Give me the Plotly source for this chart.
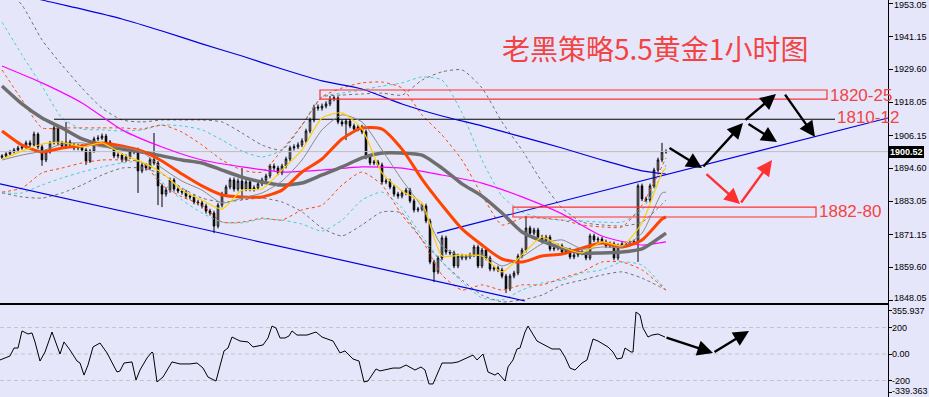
import plotly.graph_objects as go

# ---------------- XAUUSD H1 candles (bar index 0..166) ----------------
close = [1899.0, 1899.7, 1900.4, 1901.1, 1901.8, 1902.2, 1903.6, 1902.9, 1906.7, 1902.2,
         1897.6, 1900.4, 1903.6, 1908.9, 1903.6, 1902.5, 1903.9, 1902.9, 1901.8, 1902.5,
         1901.1, 1897.2, 1900.7, 1905.0, 1905.3, 1906.0, 1903.9, 1902.5, 1899.0, 1899.3,
         1897.6, 1898.6, 1900.4, 1901.1, 1893.7, 1895.8, 1894.7, 1897.6, 1896.5, 1888.4,
         1885.5, 1886.9, 1890.5, 1887.3, 1886.6, 1886.2, 1884.8, 1884.5, 1882.7, 1882.4,
         1881.3, 1879.5, 1878.8, 1874.2, 1881.6, 1885.5, 1888.0, 1890.5, 1887.3, 1890.1,
         1887.3, 1889.8, 1887.3, 1887.7, 1889.1, 1890.5, 1891.9, 1895.4, 1894.7, 1893.0,
         1895.4, 1897.9, 1901.8, 1902.2, 1902.9, 1904.3, 1907.8, 1911.7, 1916.3, 1915.9,
         1916.6, 1917.4, 1919.1, 1919.5, 1911.0, 1910.3, 1911.3, 1909.6, 1908.5, 1909.2,
         1907.5, 1898.6, 1896.5, 1896.8, 1895.8, 1889.8, 1890.1, 1888.0, 1885.5, 1884.8,
         1885.9, 1886.9, 1883.1, 1879.9, 1880.2, 1881.3, 1876.0, 1861.5, 1858.0, 1862.9,
         1870.0, 1865.0, 1864.7, 1860.1, 1863.6, 1862.9, 1863.3, 1864.0, 1866.8, 1860.1,
         1865.7, 1862.9, 1859.0, 1859.4, 1858.7, 1856.5, 1852.0, 1856.5, 1857.6, 1863.6,
         1865.7, 1873.5, 1871.7, 1872.8, 1870.3, 1868.9, 1870.3, 1866.1, 1866.4, 1867.2,
         1865.0, 1865.7, 1863.3, 1864.0, 1865.0, 1864.7, 1862.9, 1870.7, 1869.3, 1869.6,
         1868.6, 1867.2, 1867.9, 1862.9, 1867.2, 1867.9, 1867.9, 1868.2, 1868.6, 1888.4,
         1883.8, 1883.4, 1888.4, 1894.0, 1897.6, 1900.4, 1900.52]
high = [1899.6, 1900.3, 1901.0, 1901.8, 1902.6, 1903.0, 1904.4, 1904.5, 1907.6, 1907.3,
        1903.0, 1901.3, 1904.3, 1909.6, 1909.5, 1904.3, 1911.0, 1904.7, 1903.6, 1903.3,
        1903.2, 1901.8, 1901.4, 1905.8, 1906.3, 1906.9, 1906.8, 1904.6, 1903.2, 1900.2,
        1900.0, 1899.5, 1901.2, 1901.9, 1901.9, 1896.6, 1896.5, 1898.4, 1907.1, 1897.2,
        1889.2, 1887.8, 1891.3, 1891.2, 1888.1, 1887.4, 1887.0, 1885.6, 1885.3, 1883.5,
        1883.2, 1882.1, 1880.3, 1879.6, 1882.4, 1886.3, 1888.8, 1891.3, 1891.4, 1891.0,
        1894.7, 1890.7, 1890.6, 1888.6, 1889.9, 1891.3, 1892.7, 1896.2, 1896.3, 1895.5,
        1896.2, 1898.7, 1902.6, 1903.1, 1903.8, 1905.2, 1908.6, 1912.5, 1917.1, 1917.2,
        1917.5, 1918.3, 1920.2, 1920.3, 1920.1, 1911.8, 1912.1, 1912.0, 1910.4, 1910.0,
        1910.0, 1908.3, 1899.4, 1897.6, 1897.6, 1896.6, 1891.0, 1890.9, 1888.8, 1886.3,
        1886.7, 1887.7, 1887.7, 1883.9, 1881.0, 1882.1, 1882.1, 1876.8, 1862.3, 1863.7,
        1870.9, 1870.8, 1865.8, 1865.5, 1864.4, 1864.4, 1864.1, 1864.8, 1867.6, 1867.6,
        1866.5, 1866.5, 1863.7, 1860.2, 1860.2, 1859.5, 1857.3, 1857.3, 1858.4, 1864.4,
        1866.5, 1877.8, 1874.3, 1873.6, 1873.6, 1871.1, 1871.1, 1871.1, 1867.2, 1868.0,
        1868.0, 1866.5, 1866.5, 1864.8, 1865.8, 1865.8, 1865.5, 1871.5, 1871.5, 1870.4,
        1870.4, 1869.4, 1868.7, 1868.7, 1868.0, 1868.7, 1868.7, 1869.0, 1869.4, 1889.2,
        1889.2, 1884.6, 1889.2, 1894.8, 1898.4, 1903.6, 1901.3]
low = [1897.9, 1898.6, 1899.2, 1899.9, 1900.5, 1901.2, 1901.6, 1902.1, 1902.3, 1901.4,
       1895.5, 1896.8, 1899.8, 1903.0, 1902.8, 1901.7, 1901.9, 1902.1, 1901.0, 1901.0,
       1900.4, 1895.8, 1896.5, 1900.1, 1904.2, 1904.6, 1903.1, 1901.6, 1898.2, 1898.1,
       1896.7, 1896.9, 1897.9, 1899.6, 1885.9, 1892.9, 1893.8, 1894.0, 1895.7, 1881.6,
       1880.9, 1884.6, 1886.0, 1886.4, 1885.8, 1885.3, 1883.9, 1883.6, 1881.9, 1881.5,
       1880.4, 1878.6, 1877.9, 1871.7, 1873.4, 1880.8, 1884.7, 1887.2, 1886.4, 1886.5,
       1883.4, 1886.5, 1886.5, 1886.4, 1886.9, 1888.3, 1889.7, 1891.1, 1893.8, 1892.2,
       1892.2, 1894.6, 1897.1, 1900.9, 1901.4, 1902.1, 1903.5, 1907.0, 1910.9, 1915.0,
       1915.0, 1915.8, 1916.6, 1918.3, 1910.2, 1909.4, 1904.6, 1908.8, 1907.7, 1907.7,
       1906.7, 1897.8, 1895.7, 1895.7, 1895.0, 1888.9, 1889.0, 1887.2, 1884.6, 1883.9,
       1884.0, 1885.1, 1882.3, 1879.0, 1879.1, 1879.4, 1875.2, 1860.7, 1854.4, 1857.2,
       1862.1, 1864.1, 1863.9, 1859.3, 1859.3, 1862.1, 1862.1, 1862.5, 1863.2, 1859.3,
       1859.3, 1862.1, 1858.2, 1858.2, 1857.9, 1855.7, 1850.5, 1851.2, 1855.7, 1856.8,
       1862.8, 1864.9, 1870.9, 1870.9, 1869.5, 1868.1, 1868.1, 1865.3, 1865.3, 1865.6,
       1864.2, 1864.2, 1862.5, 1862.5, 1863.2, 1863.9, 1862.1, 1862.1, 1868.5, 1868.5,
       1867.8, 1866.4, 1866.4, 1862.1, 1862.1, 1866.4, 1867.1, 1867.1, 1867.4, 1861.5,
       1883.0, 1882.6, 1882.6, 1887.6, 1893.2, 1896.8, 1899.8]
first_open = 1898.5
opens = [first_open] + close[:-1]
bars = list(range(len(close)))

# ---------------- moving averages (read every 5 bars) ----------------
ma_idx = list(range(0, 166, 5)) + [166]
ma_yellow = [1897.9, 1900.7, 1903.2, 1903.9, 1902.2, 1903.6, 1899.7, 1896.8, 1893.0, 1886.9,
             1883.4, 1880.2, 1886.9, 1887.3, 1894.0, 1901.1, 1912.4, 1914.2, 1908.5, 1893.0,
             1886.6, 1882.4, 1863.6, 1864.0, 1863.6, 1858.0, 1864.0, 1870.3, 1866.8, 1864.7,
             1868.6, 1867.2, 1875.3, 1893.0, 1894.7]
ma_gray_thin = [1897.55, 1899.3, 1900.7, 1903.2, 1903.6, 1902.15, 1902.15, 1900.4, 1894.7, 1890.1,
                1886.9, 1882.35, 1884.1, 1885.9, 1890.1, 1897.55, 1908.2, 1913.5, 1911.0, 1901.1,
                1890.5, 1880.9, 1867.15, 1863.3, 1864.0, 1860.1, 1863.3, 1867.9, 1869.3, 1866.1,
                1866.8, 1866.8, 1871.7, 1885.9, 1886.2]
ma_orange = [1907.8, 1902.85, 1900.4, 1901.8, 1902.5, 1903.6, 1902.5, 1900.7, 1897.2, 1892.6,
             1888.4, 1885.2, 1884.5, 1884.5, 1886.9, 1893.3, 1897.9, 1905.0, 1908.9, 1908.5,
             1901.4, 1890.8, 1881.6, 1873.2, 1867.5, 1862.55, 1861.5, 1863.6, 1864.3, 1866.4,
             1868.2, 1866.8, 1869.3, 1876.7, 1877.4]
ma_gray_thick = [1923.7, 1917.35, 1912.4, 1908.9, 1905.0, 1902.85, 1901.4, 1900.4, 1899.0, 1897.55,
                 1896.5, 1894.0, 1891.5, 1889.8, 1888.7, 1889.4, 1892.25, 1895.1, 1898.3, 1900.0,
                 1900.0, 1899.3, 1894.7, 1889.1, 1884.8, 1878.8, 1872.1, 1868.9, 1866.4, 1864.7,
                 1864.7, 1865.0, 1866.1, 1870.7, 1871.7]

slow_idx = list(range(0, 161, 10)) + [166]
ma_magenta = [1930.8, 1924.8, 1917.7, 1908.2, 1902.15, 1897.55, 1895.1, 1893.3, 1894.0, 1895.1,
              1894.7, 1892.25, 1889.4, 1884.5, 1878.5, 1870.7, 1867.5, 1868.6]
ma_blue = [1958.35, 1954.1, 1950.9, 1947.4, 1943.15, 1938.6, 1934.3, 1929.7, 1925.5, 1922.65,
           1917.35, 1913.1, 1909.6, 1905.7, 1901.8, 1897.55, 1893.7, 1892.6]

# ---------------- Bollinger-type envelopes (every 5 bars) ----------------
band_idx = list(range(0, 161, 5)) + [166]
bb_orange_up = [1929.4, 1918.8, 1908.9, 1908.9, 1908.9, 1908.9, 1908.9, 1908.5, 1909.9, 1907.4,
                1902.85, 1897.55, 1894.0, 1893.3, 1901.1, 1909.9, 1919.8, 1923.0, 1924.8, 1925.1,
                1923.0, 1913.5, 1906.4, 1897.55, 1885.2, 1874.6, 1877.0, 1877.0, 1876.3, 1874.6,
                1873.9, 1873.9, 1881.6, 1898.3]
bb_orange_dn = [1886.2, 1887.65, 1893.0, 1894.7, 1896.5, 1897.55, 1897.55, 1896.8, 1888.7, 1884.5,
                1881.6, 1875.6, 1875.6, 1877.0, 1876.3, 1879.9, 1881.6, 1888.7, 1893.3, 1888.7,
                1878.1, 1869.3, 1856.9, 1851.6, 1853.4, 1851.6, 1853.4, 1853.4, 1855.8, 1858.0,
                1861.5, 1861.5, 1858.7, 1851.6]
bb_cyan_up = [1946.3, 1934.7, 1923.7, 1912.4, 1908.5, 1908.2, 1907.8, 1908.2, 1909.9, 1909.6,
              1908.2, 1904.6, 1900.7, 1898.6, 1901.1, 1909.9, 1919.8, 1921.2, 1922.3, 1923.7,
              1924.8, 1926.9, 1925.8, 1914.2, 1897.55, 1884.8, 1879.2, 1877.0, 1876.3, 1876.0,
              1875.6, 1875.6, 1879.9, 1895.8]
bb_cyan_dn = [1885.9, 1885.9, 1888.7, 1891.2, 1893.3, 1895.1, 1896.5, 1896.8, 1889.8, 1883.4,
              1878.8, 1875.6, 1875.3, 1876.7, 1876.3, 1874.9, 1872.4, 1876.3, 1883.4, 1886.2,
              1880.6, 1870.7, 1861.5, 1854.4, 1848.8, 1848.1, 1851.6, 1854.1, 1855.1, 1857.6,
              1858.7, 1861.5, 1860.4, 1851.6]
bb_gray_up = [1959.4, 1952.3, 1940.0, 1931.1, 1923.0, 1915.9, 1911.7, 1911.0, 1911.7, 1911.7,
              1911.7, 1911.0, 1907.1, 1902.85, 1901.1, 1909.9, 1919.8, 1920.5, 1920.9, 1921.2,
              1920.5, 1925.8, 1928.7, 1929.4, 1923.0, 1911.0, 1901.1, 1889.8, 1880.6, 1875.6,
              1874.6, 1874.2, 1875.6, 1883.4]
bb_gray_dn = [1885.9, 1884.5, 1884.1, 1885.9, 1888.7, 1892.25, 1894.7, 1894.7, 1892.6, 1887.65,
              1884.1, 1882.7, 1883.4, 1884.1, 1882.7, 1879.2, 1873.5, 1870.7, 1874.6, 1879.2,
              1878.8, 1869.3, 1861.5, 1855.1, 1849.8, 1847.4, 1848.1, 1849.8, 1853.4, 1855.1,
              1856.9, 1858.0, 1855.8, 1851.6]

# ---------------- CCI oscillator ----------------
cci_idx = [-0.5, 2, 3, 4, 5, 6, 6.5, 7.5, 8.25, 9.5,
           10.75, 12.5, 13.75, 14.5, 15.5, 17, 18.75, 19.5, 20.5, 21.5,
           22.75, 24.5, 26.25, 27.5, 28.75, 29.5, 30.5, 32.5, 33.5, 34.5,
           36.25, 37.5, 37.75, 38.75, 40.25, 42.5, 44.5, 47, 48.75, 50.25,
           51.5, 53.5, 55.5, 56.5, 57.5, 59.5, 61.5, 62.75, 65.25, 66.5,
           67.5, 68.5, 69.5, 70.75, 71.75, 72.5, 73.75, 76.25, 78.5, 80,
           82, 82.75, 84.5, 85.75, 87.75, 89.25, 90.5, 91.5, 93.5, 94.5,
           97.75, 99.5, 101, 103.25, 104.75, 105.75, 106.75, 107.75, 110, 112.5,
           114, 115.75, 117.75, 118.75, 120.25, 121.5, 123.25, 124, 125.75, 126.5,
           127.75, 128.75, 129.5, 130.75, 131.5, 133.75, 135.75, 137.5, 139.5, 140.75,
           142, 143.25, 145, 146.25, 147.75, 149, 151.5, 152.75, 153.75, 155,
           155.75, 157.25, 157.75, 158.5, 159.5, 160.25, 161.5, 162.5, 164, 165.75]
cci_val = [-45, -15, 45, 45, 174, 159, 151, 159, 91, -53,
           15, 166, 68, 0, 91, 30, -53, -68, -159, -83,
           53, 83, 8, -68, -136, -128, -68, -60, -196, -121,
           -30, 15, 8, -211, -174, -60, -75, -75, -68, -106,
           -174, -204, 23, 45, 128, 98, 91, 53, 68, 121,
           211, 196, 121, 121, 136, 174, 143, 143, 166, 128,
           106, 98, 8, 23, -38, -53, -211, -204, -113, -128,
           -106, -106, -83, -121, -98, -121, -226, -226, -68, -68,
           -60, -38, -8, -45, 0, -136, -159, -143, -204, -98,
           -45, 38, 45, 166, 211, 98, 68, 38, 38, -23,
           -106, -121, -68, -45, 113, 98, 53, 15, -38, -30,
           45, 15, 15, 317, 294, 196, 128, 143, 151, 128]
cci_levels = [200, 0, -200]
cci_tick_vals = [332, 200, 0, -200, -294]
cci_label_vals = [326, 200, 0, -200, -282]
cci_tick_text = ["355.937", "200", "0.00", "-200", "-339.363"]

# ---------------- axis ticks ----------------
price_ticks = [1953.05, 1941.15, 1929.60, 1918.05, 1906.15, 1894.60, 1883.05, 1871.15, 1859.60, 1848.05]
price_label_pos = [1952.2, 1941.15, 1929.60, 1918.05, 1906.15, 1894.60, 1883.05, 1871.15, 1859.60, 1848.6]
price_tick_text = ["1953.05", "1941.15", "1929.60", "1918.05", "1906.15", "1894.60",
                   "1883.05", "1871.15", "1859.60", "1848.05"]
last_price = 1900.52

# ---------------- drawn objects ----------------
channel_low_x = [-0.5, 130.75]
channel_low_y = [1889.1, 1847.7]
support_line_x = [108.75, 221.5]
support_line_y = [1871.7, 1912.4]
res_line_x = [13, 208.25]
res_line_y = [1911.95, 1911.95]
zone_names = ["1820-25", "1882-80"]
zone_x0 = [79.5, 127.75]
zone_x1 = [206.25, 203.5]
zone_lo = [1919.1, 1877.4]
zone_hi = [1922.3, 1880.9]
label_text = ["1820-25", "1810-12", "1882-80"]
label_x = [206.5, 208.25, 203.75]
label_y = [1920.5, 1912.75, 1879.5]
title_text = "老黑策略5.5黄金1小时图"

blk_tail_x = [166.5, 175.0, 185.5, 186.25, 195.5]
blk_tail_y = [1902.15, 1894.7, 1911.3, 1910.6, 1921.2]
blk_head_x = [175.0, 185.25, 193.5, 193.75, 203.25]
blk_head_y = [1894.7, 1910.6, 1920.9, 1903.9, 1905.7]
red_tail_x = [175.75, 184.5]
red_tail_y = [1893.0, 1882.0]
red_head_x = [184.5, 192.5]
red_head_y = [1882.0, 1897.55]
cci_tail_x = [165.75, 177.75]
cci_tail_y = [128, 8]
cci_head_x = [177.75, 186.75]
cci_head_y = [8, 174]

# ================= figure =================
BG = "#E6E6FA"
RED = "#F24444"
AXFONT = dict(family="Liberation Sans, Arial", size=9, color="#000000")
fig = go.Figure()

def band(xs, ys, color):
    fig.add_trace(go.Scatter(x=xs, y=ys, mode="lines", xaxis="x", yaxis="y",
                             line=dict(color=color, width=1, dash="3px,3px", shape="spline", smoothing=0.6),
                             hoverinfo="skip", showlegend=False))

band(band_idx, bb_gray_up, "#707070")
band(band_idx, bb_gray_dn, "#707070")
band(band_idx, bb_cyan_up, "#40D0D0")
band(band_idx, bb_cyan_dn, "#40D0D0")
band(band_idx, bb_orange_up, "#FF4500")
band(band_idx, bb_orange_dn, "#FF4500")

def line(xs, ys, color, width, shape="spline", xa="x", ya="y", dash=None):
    fig.add_trace(go.Scatter(x=xs, y=ys, mode="lines", xaxis=xa, yaxis=ya,
                             line=dict(color=color, width=width, shape=shape, smoothing=0.6, dash=dash),
                             hoverinfo="skip", showlegend=False))

# horizontal current-price line and drawn lines
line([-0.5, 221.5], [last_price, last_price], "#BEBEBE", 1, "linear")
line(res_line_x, res_line_y, "#000000", 1.2, "linear")
line(channel_low_x, channel_low_y, "#0000DD", 1.2, "linear")
line(support_line_x, support_line_y, "#0000DD", 1.2, "linear")
line(slow_idx, ma_blue, "#0000DD", 1.2)
line(slow_idx, ma_magenta, "#FF00FF", 1.2)

fig.add_trace(go.Candlestick(
    x=bars, open=opens, high=high, low=low, close=close, xaxis="x", yaxis="y",
    increasing=dict(line=dict(color="#000000", width=1), fillcolor="#FFFFFF"),
    decreasing=dict(line=dict(color="#000000", width=1), fillcolor="#000000"),
    whiskerwidth=0, hoverinfo="skip", showlegend=False))

line(ma_idx, ma_gray_thick, "#6E6E6E", 3.5)
line(ma_idx, ma_orange, "#FF4500", 3)
line(ma_idx, ma_gray_thin, "#8A8A8A", 1)
line(ma_idx, ma_yellow, "#FFD000", 1.2)

# CCI panel
for lv in cci_levels:
    line([-0.5, 221.5], [lv, lv], "#C4C4C4", 1, "linear", "x2", "y2", dash="4px,3px")
line(cci_idx, cci_val, "#000000", 1, "linear", "x2", "y2")

shapes = []
for i in range(len(zone_names)):
    shapes.append(dict(type="rect", xref="x", yref="y", x0=zone_x0[i], x1=zone_x1[i],
                       y0=zone_lo[i], y1=zone_hi[i], line=dict(color="#FF3030", width=1.2),
                       fillcolor="rgba(0,0,0,0)"))

ann = []
for t, x, y in zip(label_text, label_x, label_y):
    ann.append(dict(text=t, x=x, y=y, xref="x", yref="y", xanchor="left", yanchor="middle",
                    showarrow=False, font=dict(family="Liberation Sans, Arial", size=17, color=RED)))
ann.append(dict(text=title_text, x=0.705, y=0.878, xref="paper", yref="paper",
                xanchor="center", yanchor="middle", showarrow=False,
                font=dict(family="Noto Sans CJK SC", size=28, color=RED)))

def arrows(tx, ty, hx, hy, color, xr, yr, w):
    for a, b, c, d in zip(tx, ty, hx, hy):
        ann.append(dict(x=c, y=d, ax=a, ay=b, xref=xr, yref=yr, axref=xr, ayref=yr,
                        text="", showarrow=True, arrowhead=2, arrowsize=1.3,
                        arrowwidth=w, arrowcolor=color, standoff=0, startstandoff=0))

arrows(blk_tail_x, blk_tail_y, blk_head_x, blk_head_y, "#000000", "x", "y", 2.4)
arrows(red_tail_x, red_tail_y, red_head_x, red_head_y, "#FF3030", "x", "y", 2.4)
arrows(cci_tail_x, cci_tail_y, cci_head_x, cci_head_y, "#000000", "x2", "y2", 2.4)

# axis labels placed right of the axis line (as text so nothing is clipped)
for v, t in zip(price_label_pos, price_tick_text):
    ann.append(dict(text=t, x=894 / 929, y=v, xref="paper", yref="y", xanchor="left",
                    yanchor="middle", showarrow=False, font=AXFONT, borderpad=0, borderwidth=0))
for v, t in zip(cci_label_vals, cci_tick_text):
    ann.append(dict(text=t, x=892 / 929, y=v, xref="paper", yref="y2", xanchor="left",
                    yanchor="middle", showarrow=False, font=AXFONT, borderpad=0, borderwidth=0))

ann.append(dict(text="<b>%.2f</b>" % last_price, x=889 / 929, y=last_price, xref="paper", yref="y",
                xanchor="left", yanchor="middle", showarrow=False, bgcolor="#000000",
                borderpad=1, borderwidth=0,
                font=dict(family="Liberation Sans, Arial", size=9, color="#FFFFFF")))

XD = [0, 888 / 929]
fig.update_layout(
    width=929, height=397, margin=dict(l=0, r=0, t=0, b=0),
    paper_bgcolor=BG, plot_bgcolor=BG, showlegend=False, hovermode=False,
    boxgap=0.45,
    shapes=shapes, annotations=ann,
    xaxis=dict(domain=XD, range=[-0.5, 221.5], anchor="y", showticklabels=False,
               showgrid=False, zeroline=False, showline=True, linecolor="#000000",
               linewidth=1, ticks="", rangeslider=dict(visible=False)),
    xaxis2=dict(domain=XD, range=[-0.5, 221.5], anchor="y2", matches="x",
                showticklabels=False, showgrid=False, zeroline=False, showline=True,
                mirror=True, linecolor="#000000", linewidth=1, ticks=""),
    yaxis=dict(domain=[94 / 397, 1], range=[1847.0, 1954.11], side="right", anchor="x",
               tickvals=price_ticks, showticklabels=False, ticks="outside", ticklen=4,
               tickcolor="#000000", showline=True, linecolor="#000000", linewidth=1,
               showgrid=False, zeroline=False, automargin=False),
    yaxis2=dict(domain=[0, 92 / 397], range=[-324.5, 369.8], side="right", anchor="x2",
                tickvals=cci_tick_vals, showticklabels=False, ticks="outside", ticklen=3,
                tickcolor="#000000", showline=True, linecolor="#000000", linewidth=1,
                showgrid=False, zeroline=False, automargin=False),
)

fig.write_html("out.html")
